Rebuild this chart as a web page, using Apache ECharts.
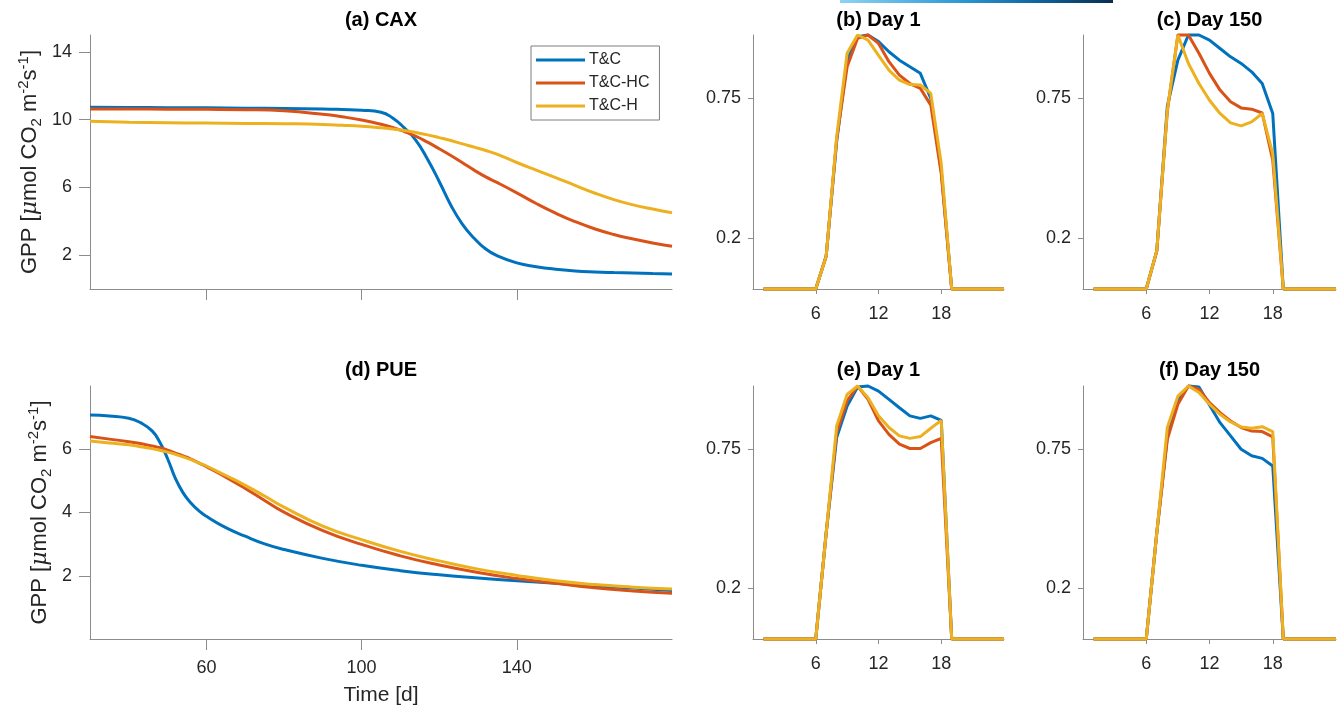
<!DOCTYPE html>
<html>
<head>
<meta charset="utf-8">
<script src="https://cdn.jsdelivr.net/npm/echarts@6/dist/echarts.min.js"></script>
<style>
  html, body { margin: 0; padding: 0; background: #fff; }
  #chart { width: 1340px; height: 712px; }
</style>
</head>
<body>
<div id="chart"></div>
<script>
// ---- model variants ----
const seriesNames = ['T&C', 'T&C-HC', 'T&C-H'];

// ---- (a) CAX: seasonal GPP [umol CO2 m-2 s-1] ----
const caxDays = [30, 40, 50, 60, 70, 80, 90, 95, 100, 105, 108, 111, 114, 117, 120, 123, 126, 129, 132, 135, 140, 145, 150, 155, 160, 165, 170, 175, 180];
const caxTC = [10.73, 10.72, 10.71, 10.70, 10.68, 10.66, 10.63, 10.60, 10.56, 10.44, 10.10, 9.52, 8.78, 7.66, 6.35, 4.95, 3.82, 3.00, 2.36, 1.95, 1.54, 1.32, 1.17, 1.07, 1.01, 0.97, 0.94, 0.91, 0.89];
const caxHC = [10.63, 10.63, 10.62, 10.61, 10.59, 10.52, 10.32, 10.17, 9.98, 9.73, 9.54, 9.30, 9.02, 8.67, 8.28, 7.88, 7.45, 7.02, 6.62, 6.28, 5.68, 5.05, 4.48, 3.98, 3.56, 3.22, 2.95, 2.72, 2.53];
const caxH = [9.90, 9.85, 9.82, 9.80, 9.78, 9.76, 9.72, 9.67, 9.61, 9.52, 9.45, 9.36, 9.24, 9.10, 8.94, 8.77, 8.57, 8.38, 8.18, 7.95, 7.47, 7.02, 6.58, 6.12, 5.67, 5.28, 4.97, 4.72, 4.50];

// ---- (d) PUE: seasonal GPP ----
const pueDays = [30, 35, 40, 43, 46, 48, 50, 52, 54, 56, 58, 60, 65, 70, 75, 80, 90, 100, 110, 120, 130, 140, 150, 160, 170, 180];
const pueTC = [7.08, 7.05, 6.98, 6.84, 6.58, 6.22, 5.70, 5.08, 4.62, 4.30, 4.06, 3.88, 3.52, 3.25, 3.01, 2.83, 2.55, 2.33, 2.16, 2.03, 1.93, 1.84, 1.76, 1.68, 1.61, 1.53];
const pueHC = [6.40, 6.32, 6.24, 6.18, 6.10, 6.05, 5.97, 5.88, 5.79, 5.69, 5.57, 5.45, 5.12, 4.76, 4.38, 4.01, 3.43, 2.99, 2.63, 2.34, 2.10, 1.91, 1.76, 1.62, 1.52, 1.45];
const pueH = [6.26, 6.20, 6.14, 6.08, 6.02, 5.97, 5.91, 5.84, 5.76, 5.67, 5.57, 5.47, 5.17, 4.86, 4.52, 4.17, 3.57, 3.14, 2.77, 2.47, 2.21, 2.01, 1.84, 1.72, 1.64, 1.58];

// ---- normalised diurnal cycles, hours 1..24 ----
const hours = [1, 2, 3, 4, 5, 6, 7, 8, 9, 10, 11, 12, 13, 14, 15, 16, 17, 18, 19, 20, 21, 22, 23, 24];
// (b) CAX day 1
const caxDay1TC = [0, 0, 0, 0, 0, 0, 0.13, 0.58, 0.90, 0.993, 1.0, 0.974, 0.934, 0.901, 0.875, 0.849, 0.75, 0.467, 0, 0, 0, 0, 0, 0];
const caxDay1HC = [0, 0, 0, 0, 0, 0, 0.13, 0.59, 0.875, 0.987, 1.0, 0.967, 0.895, 0.842, 0.809, 0.79, 0.724, 0.454, 0, 0, 0, 0, 0, 0];
const caxDay1H = [0, 0, 0, 0, 0, 0, 0.129, 0.60, 0.928, 1.0, 0.98, 0.92, 0.862, 0.822, 0.805, 0.803, 0.77, 0.493, 0, 0, 0, 0, 0, 0];
// (c) CAX day 150
const caxDay150TC = [0, 0, 0, 0, 0, 0, 0.15, 0.72, 0.901, 1.0, 1.0, 0.98, 0.947, 0.914, 0.888, 0.855, 0.809, 0.691, 0, 0, 0, 0, 0, 0];
const caxDay150HC = [0, 0, 0, 0, 0, 0, 0.15, 0.70, 1.0, 1.0, 0.928, 0.849, 0.783, 0.737, 0.713, 0.708, 0.693, 0.507, 0, 0, 0, 0, 0, 0];
const caxDay150H = [0, 0, 0, 0, 0, 0, 0.151, 0.704, 1.0, 0.888, 0.809, 0.743, 0.691, 0.654, 0.642, 0.658, 0.691, 0.533, 0, 0, 0, 0, 0, 0];
// (e) PUE day 1
const pueDay1TC = [0, 0, 0, 0, 0, 0, 0.42, 0.796, 0.921, 0.996, 1.0, 0.98, 0.947, 0.914, 0.882, 0.872, 0.882, 0.864, 0, 0, 0, 0, 0, 0];
const pueDay1HC = [0, 0, 0, 0, 0, 0, 0.42, 0.816, 0.941, 1.0, 0.947, 0.862, 0.809, 0.77, 0.753, 0.753, 0.776, 0.793, 0, 0, 0, 0, 0, 0];
const pueDay1H = [0, 0, 0, 0, 0, 0, 0.42, 0.842, 0.967, 1.0, 0.954, 0.882, 0.836, 0.803, 0.793, 0.8, 0.833, 0.864, 0, 0, 0, 0, 0, 0];
// (f) PUE day 150
const pueDay150TC = [0, 0, 0, 0, 0, 0, 0.42, 0.80, 0.94, 1.0, 0.996, 0.925, 0.855, 0.803, 0.75, 0.724, 0.714, 0.684, 0, 0, 0, 0, 0, 0];
const pueDay150HC = [0, 0, 0, 0, 0, 0, 0.42, 0.789, 0.928, 1.0, 0.987, 0.934, 0.895, 0.862, 0.836, 0.822, 0.82, 0.799, 0, 0, 0, 0, 0, 0];
const pueDay150H = [0, 0, 0, 0, 0, 0, 0.42, 0.836, 0.96, 1.0, 0.974, 0.928, 0.888, 0.858, 0.838, 0.833, 0.839, 0.82, 0, 0, 0, 0, 0, 0];

// ---- tick values and panel titles ----
const dayTicks = [60, 100, 140];
const caxGppTicks = [2, 6, 10, 14];
const pueGppTicks = [2, 4, 6];
const hourTicks = [6, 12, 18];
const fracTicks = [0.2, 0.75];
const panelTitles = ['(a) CAX', '(b) Day 1', '(c) Day 150', '(d) PUE', '(e) Day 1', '(f) Day 150'];
const timeLabel = 'Time [d]';

// ---- styling ----
const lineColors = ['#0072BD', '#D95319', '#EDB120'];
const FONT = '"Liberation Sans", Arial, Helvetica, sans-serif';
const AXIS_GRAY = '#8c8c8c';
const TEXT = '#262626';

const chart = echarts.init(document.getElementById('chart'), null, { renderer: 'canvas' });

// panel boxes: [left, top, width, height]
const boxes = [
  [90, 35, 582, 254],    // a
  [753, 35, 251, 254],   // b
  [1083, 35, 253, 254],  // c
  [90, 386, 582, 253],   // d
  [753, 386, 251, 253],  // e
  [1083, 386, 253, 253]  // f
];

const gppName = '{n|GPP [}{mu|μ}{n|mol CO}{sub|2}{n| m}{sup|-2}{n|s}{sup|-1}{n|]}';
const gppRich = {
  n: { fontSize: 22, fontFamily: FONT, color: TEXT, lineHeight: 28 },
  mu: { fontSize: 22, fontFamily: '"DejaVu Serif", "Liberation Serif", serif', fontStyle: 'italic', color: TEXT, lineHeight: 28 },
  sub: { fontSize: 15, fontFamily: FONT, color: TEXT, verticalAlign: 'bottom', lineHeight: 28 },
  sup: { fontSize: 15, fontFamily: FONT, color: TEXT, verticalAlign: 'top', lineHeight: 28 }
};

function axisBase(big) {
  return {
    axisLine: { show: true, onZero: false, lineStyle: { color: AXIS_GRAY, width: 1 } },
    axisTick: { show: true, inside: false, length: big ? 11 : 5, lineStyle: { color: AXIS_GRAY, width: 1 } },
    splitLine: { show: false },
    axisLabel: { color: TEXT, fontFamily: FONT, fontSize: 18 }
  };
}

function xAxisFor(i, big, min, max, ticks, showLabels, name) {
  const b = axisBase(big);
  return {
    type: 'value', gridIndex: i, min, max,
    axisLine: b.axisLine,
    axisTick: Object.assign({}, b.axisTick, { customValues: ticks }),
    axisLabel: Object.assign({}, b.axisLabel, { show: showLabels, customValues: ticks, margin: big ? 20 : 16 }),
    splitLine: b.splitLine,
    name: name || '',
    nameLocation: 'middle',
    nameGap: 46,
    nameTextStyle: { fontSize: 21, fontFamily: FONT, color: TEXT }
  };
}

function yAxisFor(i, big, min, max, ticks, withName, gap) {
  const b = axisBase(big);
  const ax = {
    type: 'value', gridIndex: i, min, max,
    axisLine: b.axisLine,
    axisTick: Object.assign({}, b.axisTick, { customValues: ticks }),
    axisLabel: Object.assign({}, b.axisLabel, { customValues: ticks, margin: big ? 18 : 12 }),
    splitLine: b.splitLine
  };
  if (withName) {
    ax.name = gppName;
    ax.nameLocation = 'middle';
    ax.nameRotate = 90;
    ax.nameGap = gap;
    ax.nameTextStyle = { fontSize: 22, fontFamily: FONT, color: TEXT, rich: gppRich };
  }
  return ax;
}

const grids = boxes.map(b => ({ left: b[0], top: b[1], width: b[2], height: b[3], containLabel: false }));

const xAxes = [
  xAxisFor(0, true, 30, 180, dayTicks, false),
  xAxisFor(1, false, 0, 24, hourTicks, true),
  xAxisFor(2, false, 0, 24, hourTicks, true),
  xAxisFor(3, true, 30, 180, dayTicks, true, timeLabel),
  xAxisFor(4, false, 0, 24, hourTicks, true),
  xAxisFor(5, false, 0, 24, hourTicks, true)
];
const yAxes = [
  yAxisFor(0, true, 0, 15, caxGppTicks, true, 46),
  yAxisFor(1, false, 0, 1, fracTicks, false),
  yAxisFor(2, false, 0, 1, fracTicks, false),
  yAxisFor(3, true, 0, 8, pueGppTicks, true, 36),
  yAxisFor(4, false, 0, 1, fracTicks, false),
  yAxisFor(5, false, 0, 1, fracTicks, false)
];

function pairs(xs, ys) { return xs.map((x, k) => [x, ys[k]]); }

const panelData = [
  { x: caxDays, ys: [caxTC, caxHC, caxH], smooth: true },
  { x: hours, ys: [caxDay1TC, caxDay1HC, caxDay1H], smooth: false },
  { x: hours, ys: [caxDay150TC, caxDay150HC, caxDay150H], smooth: false },
  { x: pueDays, ys: [pueTC, pueHC, pueH], smooth: true },
  { x: hours, ys: [pueDay1TC, pueDay1HC, pueDay1H], smooth: false },
  { x: hours, ys: [pueDay150TC, pueDay150HC, pueDay150H], smooth: false }
];

const series = [];
panelData.forEach((p, i) => {
  p.ys.forEach((ys, k) => {
    series.push({
      type: 'line',
      name: seriesNames[k],
      xAxisIndex: i,
      yAxisIndex: i,
      data: pairs(p.x, ys),
      smooth: p.smooth ? 0.5 : false,
      showSymbol: false,
      symbol: 'none',
      clip: false,
      color: lineColors[k],
      lineStyle: { color: lineColors[k], width: 3 },
      z: 2 + k
    });
  });
});

const titleGraphics = panelTitles.map((t, i) => ({
  type: 'text',
  x: boxes[i][0] + boxes[i][2] / 2,
  y: i < 3 ? 10 : 360,
  style: {
    text: t,
    font: 'bold 20px ' + FONT,
    fill: '#000',
    align: 'center',
    verticalAlign: 'top'
  }
}));

// colour scale strip along the top edge
const strip = {
  type: 'rect',
  shape: { x: 840, y: 0, width: 273, height: 3 },
  style: {
    fill: {
      type: 'linear', x: 0, y: 0, x2: 1, y2: 0,
      colorStops: [
        { offset: 0, color: '#8fd3f4' },
        { offset: 0.45, color: '#2a97d2' },
        { offset: 0.75, color: '#0e5f96' },
        { offset: 1, color: '#0a2d4f' }
      ]
    }
  }
};

chart.setOption({
  animation: false,
  backgroundColor: '#fff',
  grid: grids,
  xAxis: xAxes,
  yAxis: yAxes,
  legend: {
    data: seriesNames,
    orient: 'vertical',
    left: 531,
    top: 46,
    padding: [5, 10, 5, 5],
    itemWidth: 49,
    itemHeight: 3,
    itemGap: 5,
    icon: 'rect',
    backgroundColor: '#fff',
    borderColor: '#7f7f7f',
    borderWidth: 1,
    borderRadius: 0,
    selectedMode: false,
    textStyle: { fontSize: 16, lineHeight: 18, fontFamily: FONT, color: TEXT, padding: [0, 0, 0, -1] }
  },
  series,
  graphic: titleGraphics.concat([strip])
});
</script>
</body>
</html>
